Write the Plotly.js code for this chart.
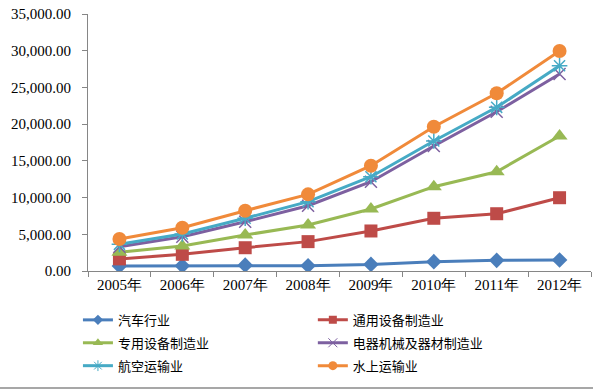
<!DOCTYPE html>
<html>
<head>
<meta charset="utf-8">
<script src="https://cdn.plot.ly/plotly-3.0.1.min.js"></script>
<style>html,body{margin:0;padding:0;background:#fff}#chart{width:593px;height:390px}</style>
</head>
<body>
<div id="chart"></div>
<script>
const years = ['2005年','2006年','2007年','2008年','2009年','2010年','2011年','2012年'];
const seriesNames = ['汽车行业','通用设备制造业','专用设备制造业','电器机械及器材制造业','航空运输业','水上运输业'];
const autoIndustry = [680, 700, 800, 720, 900, 1270, 1450, 1500];
const generalEquip = [1650, 2270, 3170, 4000, 5450, 7180, 7800, 9980];
const specialEquip = [2540, 3400, 4900, 6260, 8440, 11480, 13520, 18380];
const electrical = [3310, 4670, 6710, 8890, 12160, 17020, 21690, 26830];
const airTransport = [3630, 5040, 7180, 9440, 12840, 17700, 22290, 27960];
const waterTransport = [4360, 5900, 8210, 10440, 14340, 19650, 24200, 29960];
const yTicks = [0, 5000, 10000, 15000, 20000, 25000, 30000, 35000];

const values = [autoIndustry, generalEquip, specialEquip, electrical, airTransport, waterTransport];
const colors = ['#4a7ebb', '#be4b48', '#98b954', '#7d60a0', '#46aac5', '#f08a3a'];
const symbols = ['diamond', 'square', 'triangle-up', 'x-thin-open', 'asterisk-open', 'circle'];
const sizes = [12, 13, 14, 12, 13, 14];
const legendSizes = [8, 8, 9, 9, 9, 9];

const traces = [];
values.forEach((v, i) => {
  traces.push({
    type: 'scatter', mode: 'lines+markers',
    x: years, y: v, name: seriesNames[i], showlegend: false,
    line: {color: colors[i], width: 3},
    marker: {symbol: symbols[i], size: sizes[i], color: colors[i], line: {color: colors[i], width: (i === 3 || i === 4) ? 1.5 : 0}}
  });
});
// legend entries (empty data, smaller legend symbols); column by index parity
values.forEach((v, i) => {
  traces.push({
    type: 'scatter', mode: 'lines+markers',
    x: [null], y: [null], name: seriesNames[i], showlegend: true,
    legend: (i % 2 === 0) ? 'legend' : 'legend2', legendgroup: 'g' + i,
    line: {color: colors[i], width: 3},
    marker: {symbol: symbols[i], size: legendSizes[i], color: colors[i], line: {color: colors[i], width: (i === 3 || i === 4) ? 1 : 0}}
  });
});

const serif = 'Liberation Serif';
const legendFont = {family: 'Noto Sans CJK SC', size: 13, color: '#000'};
const layout = {
  width: 593, height: 390,
  margin: {l: 88, r: 2, t: 14, b: 119},
  paper_bgcolor: '#fff', plot_bgcolor: '#fff',
  font: {family: serif, size: 15, color: '#000'},
  showlegend: true,
  xaxis: {
    type: 'category', range: [-0.5, 7.5], showgrid: false, zeroline: false,
    showline: true, linecolor: '#868686', linewidth: 1,
    ticks: 'outside', tickson: 'boundaries', ticklen: 5, tickcolor: '#868686',
    tickfont: {family: serif, size: 15, color: '#000'}, fixedrange: true
  },
  yaxis: {
    range: [0, 35000], tickvals: yTicks, tickformat: ',.2f', showgrid: false, zeroline: false,
    showline: true, linecolor: '#868686', linewidth: 1,
    ticks: 'outside', ticklen: 5, tickcolor: '#868686', ticklabelstandoff: 8,
    tickfont: {family: serif, size: 15, color: '#000'}, fixedrange: true
  },
  legend: {
    orientation: 'v', x: -0.02, xanchor: 'left', y: -0.132, yanchor: 'top',
    font: legendFont, tracegroupgap: 3, bgcolor: 'rgba(0,0,0,0)'
  },
  legend2: {
    orientation: 'v', x: 0.447, xanchor: 'left', y: -0.132, yanchor: 'top',
    font: legendFont, tracegroupgap: 3, bgcolor: 'rgba(0,0,0,0)'
  },
  shapes: [{type: 'line', xref: 'paper', yref: 'paper', x0: -0.18, x1: 1.01, y0: -0.455, y1: -0.455, line: {color: '#8a8a8a', width: 1.5}}]
};

Plotly.newPlot('chart', traces, layout, {displayModeBar: false, staticPlot: true});
</script>
</body>
</html>
